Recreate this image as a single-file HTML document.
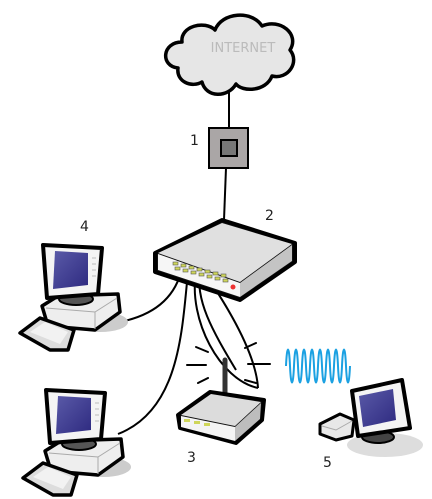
<!DOCTYPE html>
<html><head><style>html,body{margin:0;padding:0;background:#fff}svg{display:block}</style></head>
<body>
<svg width="432" height="499" viewBox="0 0 432 499" xmlns="http://www.w3.org/2000/svg" font-family="'DejaVu Sans','Liberation Sans',sans-serif">
<defs>
<linearGradient id="scr" x1="0" y1="0" x2="1" y2="1"><stop offset="0" stop-color="#5a5aa8"/><stop offset="1" stop-color="#2e2a80"/></linearGradient>
<g id="pc">
  <ellipse cx="100" cy="322" rx="28" ry="10" fill="#ccc"/>
  <path d="M42,306 L58,296 L118,294 L120,312 L95,330 L48,326 Z" fill="#eee" stroke="#000" stroke-width="3.5" stroke-linejoin="round"/>
  <path d="M46,308 L95,312 L117,298" fill="none" stroke="#aaa" stroke-width="1"/>
  <path d="M95,312 L95,329" stroke="#aaa" stroke-width="1"/>
  <path d="M20,333 L40,318 L74,330 L68,350 L50,350 Z" fill="#ddd" stroke="#000" stroke-width="3.5" stroke-linejoin="round"/>
  <path d="M30,332 L45,322 L68,332 L60,344 Z" fill="#f2f2f2"/>
  <ellipse cx="76" cy="299" rx="17" ry="6" fill="#555" stroke="#000" stroke-width="2"/>
  <path d="M43,245 L102,248 L98,294 L47,298 Z" fill="#f4f4f4" stroke="#000" stroke-width="4" stroke-linejoin="round"/>
  <path d="M55,251 L88,253 L88,285 L53,289 Z" fill="url(#scr)"/>
  <g stroke="#bbb" stroke-width="1"><line x1="92" y1="258" x2="96" y2="258"/><line x1="92" y1="264" x2="96" y2="264"/><line x1="92" y1="270" x2="96" y2="270"/><line x1="92" y1="276" x2="96" y2="276"/></g>
</g>
</defs>

<path d="M178,68 C160,66 162,42 182,42 C180,26 205,20 215,30 C222,12 252,10 262,26 C280,18 300,34 290,50 C300,62 288,80 272,76 C266,92 242,92 236,84 C228,98 206,98 202,82 C192,88 176,82 178,68 Z" fill="#e6e6e6" stroke="#000" stroke-width="3.5" stroke-linejoin="round"/>
<text x="243" y="52" font-size="13" fill="#bbb" text-anchor="middle">INTERNET</text>

<line x1="229" y1="92" x2="229" y2="128" stroke="#000" stroke-width="2"/>
<line x1="226" y1="168" x2="224" y2="220" stroke="#000" stroke-width="2"/>

<rect x="209" y="128" width="39" height="40" fill="#aaa6a6" stroke="#000" stroke-width="2"/>
<rect x="221" y="140" width="16" height="16" fill="#777" stroke="#000" stroke-width="2"/>
<text x="190" y="145" font-size="14" fill="#222">1</text>
<text x="265" y="220" font-size="14" fill="#222">2</text>
<text x="80" y="231" font-size="14" fill="#222">4</text>
<text x="187" y="462" font-size="14" fill="#222">3</text>
<text x="323" y="467" font-size="14" fill="#222">5</text>

<g fill="none" stroke="#000" stroke-width="2">
<path d="M182,268 C175,300 150,322 95,325"/>
<path d="M188,272 C182,330 180,410 118,434"/>
<path d="M196,272 C188,320 220,380 258,388"/>
<path d="M204,272 C230,310 256,355 258,388"/>
<path d="M200,270 C195,300 212,330 236,370"/>
</g>

<path d="M155,253 L222,220 L295,243 L295,262 L240,300 L155,272 Z" fill="#111" stroke="#000" stroke-width="4" stroke-linejoin="round"/>
<path d="M158,253 L222,223 L292,244 L240,282 Z" fill="#e0e0e0"/>
<path d="M158,254 L240,283 L240,297 L158,270 Z" fill="#f6f6f6"/>
<path d="M240,283 L292,245 L292,261 L240,297 Z" fill="#c4c4c4"/>
<g fill="#cfd65a" stroke="#555" stroke-width="0.6">
<rect x="173" y="262" width="5" height="3"/><rect x="181" y="264" width="5" height="3"/><rect x="189" y="266" width="5" height="3"/><rect x="197" y="268" width="5" height="3"/><rect x="205" y="270" width="5" height="3"/><rect x="213" y="272" width="5" height="3"/>
<rect x="175" y="267" width="5" height="3"/><rect x="183" y="269" width="5" height="3"/><rect x="191" y="271" width="5" height="3"/><rect x="199" y="273" width="5" height="3"/><rect x="207" y="275" width="5" height="3"/><rect x="215" y="277" width="5" height="3"/>
<rect x="221" y="274" width="5" height="3"/><rect x="223" y="279" width="5" height="3"/>
</g>
<circle cx="233" cy="287" r="2.5" fill="#e33"/>

<use href="#pc"/>
<use href="#pc" transform="translate(3,145)"/>

<g stroke="#000" stroke-width="2" stroke-linecap="round">
<line x1="196" y1="347" x2="208" y2="352"/>
<line x1="187" y1="365" x2="206" y2="365"/>
<line x1="198" y1="383" x2="208" y2="378"/>
<line x1="245" y1="348" x2="256" y2="343"/>
<line x1="248" y1="364" x2="270" y2="364"/>
<line x1="245" y1="380" x2="256" y2="383"/>
</g>

<line x1="225" y1="360" x2="225" y2="398" stroke="#333" stroke-width="5" stroke-linecap="round"/>
<path d="M178,415 L210,392 L264,400 L262,420 L236,443 L180,428 Z" fill="#111" stroke="#000" stroke-width="4" stroke-linejoin="round"/>
<path d="M181,415 L211,394 L261,402 L235,426 Z" fill="#dcdcdc"/>
<path d="M181,416 L235,427 L235,441 L181,427 Z" fill="#f4f4f4"/>
<path d="M235,427 L261,403 L260,419 L235,441 Z" fill="#bdbdbd"/>
<g fill="#cfd65a"><rect x="184" y="419" width="6" height="3"/><rect x="194" y="421" width="6" height="3"/><rect x="204" y="423" width="6" height="3"/></g>

<path d="M286,366 C287,344 289,344 290,366 C291,388 293,388 294,366 C295,344 297,344 298,366 C299,388 301,388 302,366 C303,344 305,344 306,366 C307,388 309,388 310,366 C311,344 313,344 314,366 C315,388 317,388 318,366 C319,344 321,344 322,366 C323,388 325,388 326,366 C327,344 329,344 330,366 C331,388 333,388 334,366 C335,344 337,344 338,366 C339,388 341,388 342,366 C343,344 345,344 346,366 C347,388 349,388 350,366" fill="none" stroke="#1ba1e2" stroke-width="2"/>

<ellipse cx="385" cy="445" rx="38" ry="12" fill="#ddd"/>
<path d="M320,424 L340,414 L354,420 L352,436 L336,440 L320,434 Z" fill="#e8e8e8" stroke="#000" stroke-width="3" stroke-linejoin="round"/>
<path d="M322,426 L336,430 L352,421" fill="none" stroke="#aaa" stroke-width="1"/>
<ellipse cx="378" cy="437" rx="16" ry="6" fill="#444" stroke="#000" stroke-width="2"/>
<path d="M352,391 L402,380 L410,428 L358,436 Z" fill="#f4f4f4" stroke="#000" stroke-width="4" stroke-linejoin="round"/>
<path d="M359,396 L393,389 L396,420 L363,427 Z" fill="url(#scr)"/>
</svg>
</body></html>
